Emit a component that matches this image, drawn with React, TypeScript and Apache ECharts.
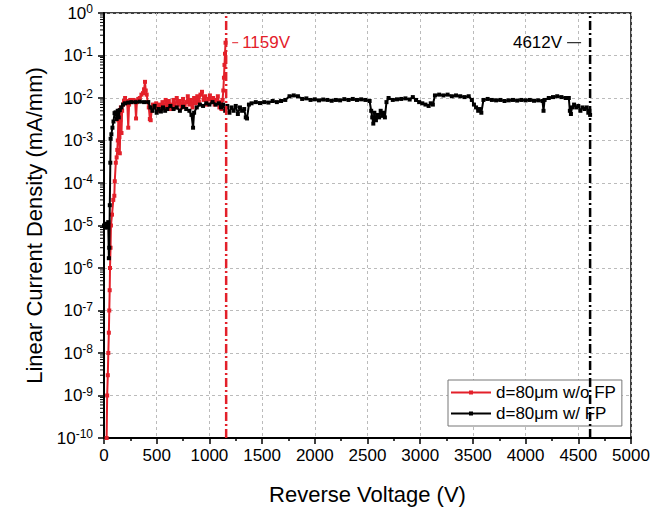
import React, { useEffect, useRef } from "react";
import * as echarts from "echarts";

const FONT = 'Arial, "Liberation Sans", Helvetica, sans-serif';

// Red series: d=80µm w/o FP
const redV = [25, 30, 36, 41, 46, 50, 54, 57, 62, 66, 76, 88, 98, 102, 112, 120, 126, 131, 136, 140, 146, 150, 155, 160, 166, 172, 180, 190, 200, 210, 220, 230, 238, 250, 265, 280, 295, 304, 312, 325, 340, 355, 370, 380, 389, 396, 405, 415, 425, 435, 443, 452, 465, 480, 495, 510, 525, 540, 555, 570, 585, 600, 615, 630, 645, 660, 675, 690, 705, 720, 735, 750, 765, 780, 795, 810, 825, 840, 855, 870, 885, 900, 915, 930, 945, 960, 975, 990, 1005, 1020, 1035, 1050, 1065, 1080, 1095, 1105, 1115, 1125, 1132, 1138, 1143, 1148, 1153];
const redJ = [1e-10, 1e-9, 3e-9, 1e-8, 3e-8, 1e-7, 3e-7, 1e-6, 3e-6, 1e-5, 1.8e-5, 4e-5, 5e-5, 1.1e-4, 3e-4, 4e-4, 6e-4, 1e-3, 3e-3, 5e-3, 1.2e-3, 5e-4, 3e-3, 6e-3, 1.5e-3, 5e-3, 7e-3, 8.5e-3, 1e-2, 7.5e-3, 8.5e-3, 2e-3, 7e-3, 9e-3, 8e-3, 9e-3, 8.5e-3, 3.3e-3, 8e-3, 9.5e-3, 1e-2, 1.2e-2, 1.3e-2, 1.6e-2, 2.4e-2, 1.5e-2, 1.2e-2, 8e-3, 6e-3, 3.2e-3, 3e-3, 5e-3, 7e-3, 6e-3, 7.5e-3, 5e-3, 7e-3, 5.5e-3, 8e-3, 6e-3, 9e-3, 6.5e-3, 8.5e-3, 5.5e-3, 7e-3, 9e-3, 6e-3, 1e-2, 7e-3, 8.5e-3, 6e-3, 9.5e-3, 6.5e-3, 8e-3, 1.1e-2, 7e-3, 9e-3, 6e-3, 1e-2, 7.5e-3, 1.1e-2, 8e-3, 1.2e-2, 1.4e-2, 9e-3, 1.1e-2, 7e-3, 9.5e-3, 1.15e-2, 8e-3, 1e-2, 7e-3, 9e-3, 1.1e-2, 6e-3, 8e-3, 5.5e-3, 9e-3, 1.5e-2, 3e-2, 6e-2, 1.1e-1, 2e-1];

// Black series: d=80µm w/ FP
const blackV = [0, 10, 20, 30, 40, 46, 50, 55, 60, 63, 70, 80, 90, 100, 110, 120, 130, 140, 150, 165, 180, 200, 230, 260, 300, 340, 380, 420, 440, 460, 480, 500, 520, 540, 560, 580, 600, 630, 660, 690, 720, 750, 780, 810, 830, 845, 855, 880, 910, 940, 970, 1000, 1030, 1060, 1090, 1110, 1130, 1150, 1170, 1190, 1210, 1230, 1250, 1270, 1290, 1310, 1330, 1345, 1357, 1375, 1400, 1440, 1480, 1520, 1560, 1600, 1640, 1680, 1720, 1760, 1800, 1840, 1880, 1920, 1960, 2000, 2040, 2080, 2120, 2160, 2200, 2240, 2280, 2320, 2360, 2400, 2440, 2480, 2520, 2535, 2545, 2555, 2565, 2580, 2595, 2610, 2625, 2640, 2655, 2665, 2680, 2700, 2740, 2780, 2820, 2860, 2900, 2930, 2960, 2990, 3020, 3050, 3080, 3100, 3120, 3140, 3180, 3220, 3260, 3300, 3340, 3380, 3420, 3460, 3490, 3510, 3530, 3550, 3565, 3580, 3600, 3640, 3680, 3720, 3760, 3800, 3840, 3880, 3920, 3960, 4000, 4040, 4080, 4120, 4160, 4170, 4180, 4220, 4260, 4300, 4340, 4380, 4410, 4420, 4430, 4440, 4460, 4480, 4500, 4520, 4540, 4560, 4580, 4595, 4605, 4612];
const blackJ = [1e-5, 9e-6, 1.1e-5, 9e-6, 1.2e-5, 1.7e-6, 3e-6, 3e-5, 3e-4, 1.1e-3, 1.4e-3, 2e-3, 2.8e-3, 4.4e-3, 4.6e-3, 3.2e-3, 5e-3, 3.5e-3, 5.2e-3, 6e-3, 7e-3, 7.5e-3, 7.8e-3, 8e-3, 8e-3, 8.2e-3, 8e-3, 8e-3, 6e-3, 5e-3, 6.5e-3, 4.5e-3, 5.5e-3, 4.8e-3, 6e-3, 5e-3, 5.5e-3, 6.5e-3, 5.5e-3, 6e-3, 5e-3, 6.2e-3, 5.5e-3, 5e-3, 4e-3, 2e-3, 4.5e-3, 6e-3, 7e-3, 6.5e-3, 7.5e-3, 7e-3, 8e-3, 7e-3, 7.5e-3, 6e-3, 7e-3, 5e-3, 6.5e-3, 4.5e-3, 6e-3, 5e-3, 6.5e-3, 4.2e-3, 6e-3, 5e-3, 5.5e-3, 3.5e-3, 3.3e-3, 7e-3, 7.5e-3, 8e-3, 7.6e-3, 8e-3, 7.8e-3, 8.5e-3, 8e-3, 8.5e-3, 9e-3, 1.1e-2, 1.15e-2, 1.1e-2, 9.5e-3, 9.8e-3, 9e-3, 9.3e-3, 8.8e-3, 9.2e-3, 9e-3, 8.6e-3, 9e-3, 8.8e-3, 9.4e-3, 9e-3, 9.5e-3, 9e-3, 9.3e-3, 9e-3, 8.5e-3, 5e-3, 3.5e-3, 2.5e-3, 4.5e-3, 3e-3, 4e-3, 3.5e-3, 5e-3, 3.8e-3, 4.5e-3, 3.5e-3, 8e-3, 1e-2, 9e-3, 9.3e-3, 9.5e-3, 9.8e-3, 9.2e-3, 1.05e-2, 9e-3, 8e-3, 7.5e-3, 7e-3, 6.5e-3, 7.5e-3, 7e-3, 1.15e-2, 1.2e-2, 1.15e-2, 1.2e-2, 1.1e-2, 1.15e-2, 1.1e-2, 1.05e-2, 1.1e-2, 9e-3, 7e-3, 6e-3, 5e-3, 5.5e-3, 4.5e-3, 9e-3, 9.5e-3, 9e-3, 8.8e-3, 9e-3, 8.5e-3, 8.8e-3, 9e-3, 8.7e-3, 9e-3, 8.8e-3, 9e-3, 8.6e-3, 8.8e-3, 8.5e-3, 5e-3, 9e-3, 1e-2, 1.05e-2, 1.1e-2, 1.05e-2, 1e-2, 1e-2, 5e-3, 4.2e-3, 6e-3, 7e-3, 6e-3, 6.5e-3, 5e-3, 6e-3, 5.5e-3, 6e-3, 4.5e-3, 5e-3, 4e-3];

const redName = "d=80\u03bcm w/o FP";
const blackName = "d=80\u03bcm w/ FP";
const redBreakdownV = 1159;
const blackBreakdownV = 4612;
const annotY = 0.2;

const xMin = 0;
const xMax = 5000;
const xInterval = 500;
// y axis is plotted in decades (log10 of the current density)
const yMinExp = -10;
const yMaxExp = 0;

// log-style minor ticks (2..9 × 10^n), as exponents
const yMinorTicks: number[] = [];
for (let d = yMinExp; d < yMaxExp; d++) {
  for (let m = 2; m <= 9; m++) yMinorTicks.push(d + Math.log10(m));
}

const RED = "#e3202a";
const lg = (v: number) => Math.log10(v);

export default function App() {
  const ref = useRef<HTMLDivElement>(null);
  useEffect(() => {
    document.body.style.margin = "0";
    if (!ref.current) return;
    const chart = echarts.init(ref.current, undefined, { renderer: "svg" });
    const option: any = {
      animation: false,
      backgroundColor: "#fff",
      grid: {
        left: 104, right: 29, top: 13, bottom: 79,
        show: true, borderColor: "#000", borderWidth: 1.5, backgroundColor: "transparent",
      },
      legend: {
        data: [redName, blackName],
        orient: "vertical",
        left: 448, top: 380,
        itemWidth: 40, itemHeight: 5, itemGap: 4,
        padding: [4, 6, 4, 2],
        borderColor: "#777", borderWidth: 1, backgroundColor: "#fff",
        textStyle: { fontSize: 17, color: "#000", fontFamily: FONT },
        z: 4,
      },
      xAxis: {
        type: "value", min: xMin, max: xMax, interval: xInterval,
        name: "Reverse Voltage (V)", nameLocation: "middle", nameGap: 45,
        nameTextStyle: { fontSize: 22, color: "#000", fontFamily: FONT },
        axisLine: { show: true, onZero: false, lineStyle: { color: "#000", width: 2 } },
        axisTick: { show: true, inside: false, length: 6, lineStyle: { color: "#000", width: 1.5 } },
        minorTick: { show: true, splitNumber: 2, length: 3, lineStyle: { color: "#000", width: 1.5 } },
        axisLabel: { color: "#000", fontSize: 17, fontFamily: FONT, margin: 9, formatter: (v: number) => String(v) },
        splitLine: { show: true, lineStyle: { color: "#bbb", width: 1, type: [3, 3] } },
      },
      yAxis: {
        type: "value", min: yMinExp, max: yMaxExp, interval: 1,
        name: "Linear Current Density (mA/mm)", nameLocation: "middle", nameGap: 52,
        nameTextStyle: { fontSize: 22, color: "#000", fontFamily: FONT },
        axisLine: { show: true, onZero: false, lineStyle: { color: "#000", width: 2 } },
        axisTick: { show: true, inside: false, length: 6, lineStyle: { color: "#000", width: 1.5 } },
        axisLabel: {
          margin: 11,
          formatter: (v: number) => "{b|10}{s|" + Math.round(v) + "}",
          rich: {
            b: { fontSize: 17, color: "#000", fontFamily: FONT, lineHeight: 20 },
            s: { fontSize: 12, color: "#000", fontFamily: FONT, verticalAlign: "top", lineHeight: 12 },
          },
        },
        splitLine: { show: true, lineStyle: { color: "#bbb", width: 1, type: [3, 3] } },
      },
      series: [
        {
          name: redName, type: "line",
          data: redV.map((v, i) => [v, lg(redJ[i])]),
          color: RED,
          lineStyle: { color: RED, width: 2 },
          itemStyle: { color: RED },
          symbol: "rect", symbolSize: 4, showAllSymbol: true,
          z: 2,
        },
        {
          name: blackName, type: "line",
          data: blackV.map((v, i) => [v, lg(blackJ[i])]),
          color: "#000",
          lineStyle: { color: "#000", width: 2 },
          itemStyle: { color: "#000" },
          symbol: "rect", symbolSize: 4, showAllSymbol: true,
          z: 3,
        },
        {
          name: "redBreak", type: "line",
          data: [[redBreakdownV, yMinExp], [redBreakdownV, yMaxExp]],
          symbol: "none", silent: true,
          lineStyle: { color: RED, width: 2.5, type: [9, 3, 2, 3] },
          z: 5,
        },
        {
          name: "blackBreak", type: "line",
          data: [[blackBreakdownV, yMinExp], [blackBreakdownV, yMaxExp]],
          symbol: "none", silent: true,
          lineStyle: { color: "#000", width: 2.5, type: [9, 3, 2, 3] },
          z: 5,
        },
        {
          name: "yMinor", type: "custom", silent: true, clip: false,
          data: yMinorTicks.map((v) => [xMin, v]),
          encode: { x: 0, y: 1 },
          renderItem: (params: any, api: any) => {
            const p = api.coord([api.value(0), api.value(1)]);
            return {
              type: "line",
              shape: { x1: p[0] - 4, y1: p[1], x2: p[0] - 1, y2: p[1] },
              style: { stroke: "#000", lineWidth: 1 },
            };
          },
          z: 6,
        },
      ],
    };
    chart.setOption(option);

    const pr = chart.convertToPixel({ gridIndex: 0 }, [redBreakdownV, lg(annotY)]) as number[];
    const pb = chart.convertToPixel({ gridIndex: 0 }, [blackBreakdownV, lg(annotY)]) as number[];
    chart.setOption({
      graphic: [
        { type: "line", shape: { x1: pr[0] + 6, y1: pr[1], x2: pr[0] + 12, y2: pr[1] }, style: { stroke: RED, lineWidth: 1 }, z: 10 },
        { type: "text", x: pr[0] + 16, y: pr[1], style: { text: String(redBreakdownV) + "V", fill: RED, fontSize: 17, fontFamily: FONT, verticalAlign: "middle", align: "left" }, z: 10 },
        { type: "text", x: pb[0] - 28, y: pb[1], style: { text: String(blackBreakdownV) + "V", fill: "#000", fontSize: 17, fontFamily: FONT, verticalAlign: "middle", align: "right" }, z: 10 },
        { type: "line", shape: { x1: pb[0] - 23, y1: pb[1], x2: pb[0] - 9, y2: pb[1] }, style: { stroke: "#000", lineWidth: 1 }, z: 10 },
      ],
    });

    return () => chart.dispose();
  }, []);
  return <div ref={ref} style={{ width: 660, height: 517 }} />;
}
